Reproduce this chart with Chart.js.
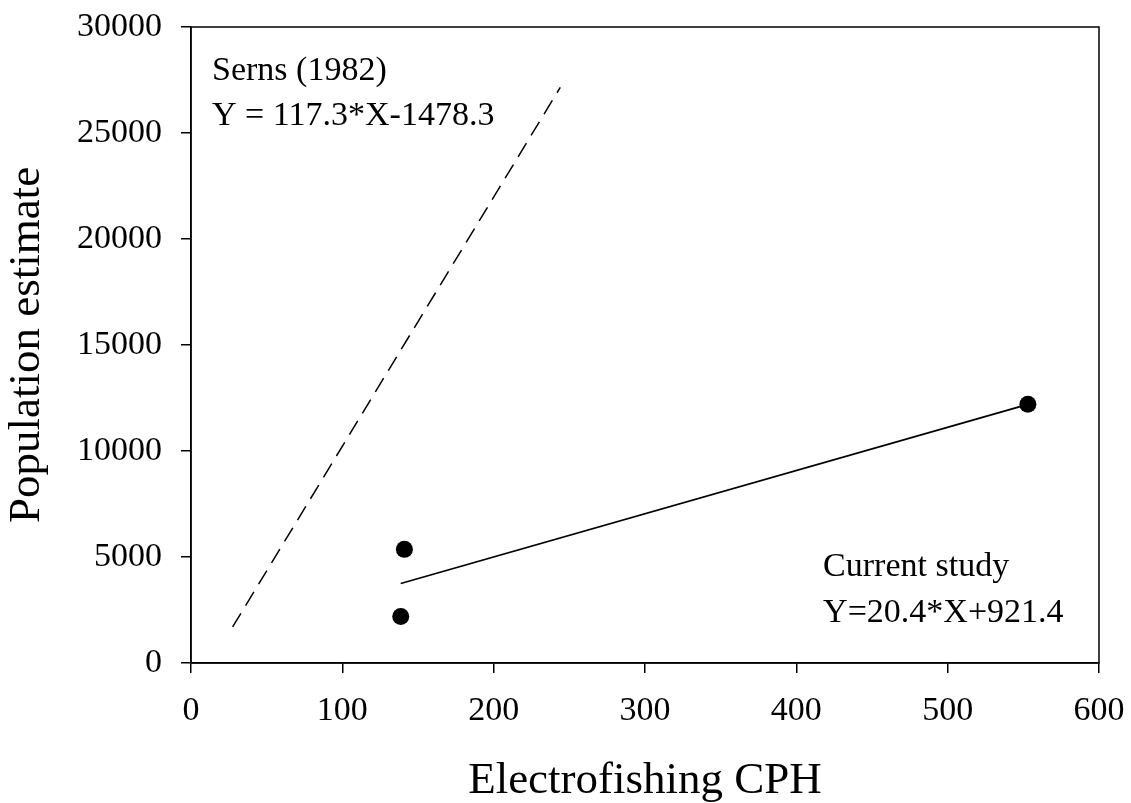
<!DOCTYPE html>
<html lang="en">
<head>
  <meta charset="UTF-8">
  <title>Population estimate vs Electrofishing CPH</title>
  <script src="https://cdn.jsdelivr.net/npm/chart.js"></script>
  <style>
    body { margin: 0; background: #fff; }
    .chart-container { width: 1131px; height: 803px; }
  </style>
</head>
<body>
  <div class="chart-container">
    <canvas id="cphChart"></canvas>
  </div>
  <script>
    // observed points (current study)
    const cphObs = [138.6, 141, 553];
    const popObs = [2190, 5360, 12210];

    // fitted line, current study: Y=20.4*X+921.4 (read end points)
    const cphFit = [138.6, 553];
    const popFit = [3750, 12200];

    // Serns (1982): Y = 117.3*X-1478.3 (read end points)
    const cphSerns = [27.5, 244];
    const popSerns = [1700, 27150];

    const xTicks = [0, 100, 200, 300, 400, 500, 600];
    const yTicks = [0, 5000, 10000, 15000, 20000, 25000, 30000];

    // text notes placed in data coords (left edge, baseline)
    const notes = [
      { text: 'Serns (1982)', x: 13.9, y: 27500 },
      { text: 'Y = 117.3*X-1478.3', x: 13.9, y: 25380 },
      { text: 'Current study', x: 417.7, y: 4100 },
      { text: 'Y=20.4*X+921.4', x: 417.7, y: 1930 }
    ];

    const serif = "'Liberation Serif', 'Times New Roman', serif";
    const toXY = (xs, ys) => xs.map((x, i) => ({ x: x, y: ys[i] }));

    // box round the plot area + notes
    const framePlugin = {
      id: 'frame',
      afterDraw(chart) {
        const { ctx, chartArea: a, scales } = chart;
        ctx.save();
        ctx.strokeStyle = '#000'; ctx.lineWidth = 1.5;
        ctx.strokeRect(a.left, a.top, a.right - a.left, a.bottom - a.top);
        ctx.fillStyle = '#000';
        ctx.font = '34px ' + serif;
        ctx.textBaseline = 'alphabetic'; ctx.textAlign = 'left';
        notes.forEach(n => ctx.fillText(n.text, scales.x.getPixelForValue(n.x), scales.y.getPixelForValue(n.y)));
        ctx.restore();
      }
    };

    const ctx = document.getElementById('cphChart').getContext('2d');
    new Chart(ctx, {
      type: 'scatter',
      data: {
        datasets: [
          { label: 'Serns (1982)', data: toXY(cphSerns, popSerns), showLine: true, borderColor: '#000', borderWidth: 1.5, borderDash: [16, 9], pointRadius: 0 },
          { label: 'Fit', data: toXY(cphFit, popFit), showLine: true, borderColor: '#000', borderWidth: 1.8, pointRadius: 0 },
          { label: 'Current study', data: toXY(cphObs, popObs), backgroundColor: '#000', borderColor: '#000', pointRadius: 8.5, pointBorderWidth: 0 }
        ]
      },
      options: {
        responsive: true,
        maintainAspectRatio: false,
        animation: false,
        layout: { padding: { top: 27, right: 32, left: 0, bottom: 0 } },
        plugins: { legend: { display: false }, tooltip: { enabled: false } },
        scales: {
          x: {
            type: 'linear', min: 0, max: 600,
            afterBuildTicks: s => { s.ticks = xTicks.map(v => ({ value: v })); },
            afterFit: s => { s.height = 140; s.paddingLeft = 0; s.paddingRight = 0; },
            grid: { drawOnChartArea: false, drawTicks: true, tickLength: 10, color: '#000', lineWidth: 1.5 },
            border: { display: true, color: '#000', width: 1.5 },
            ticks: { color: '#000', font: { family: serif, size: 34 }, padding: 18, maxRotation: 0 },
            title: { display: true, text: 'Electrofishing CPH', color: '#000', font: { family: serif, size: 45 }, padding: { top: 0, bottom: -5 } }
          },
          y: {
            type: 'linear', min: 0, max: 30000,
            afterBuildTicks: s => { s.ticks = yTicks.map(v => ({ value: v })); },
            afterFit: s => { s.width = 191; s.paddingTop = 0; s.paddingBottom = 0; },
            grid: { drawOnChartArea: false, drawTicks: true, tickLength: 10, color: '#000', lineWidth: 1.5 },
            border: { display: true, color: '#000', width: 1.5 },
            ticks: { color: '#000', font: { family: serif, size: 34 }, padding: 19, callback: v => String(v) },
            title: { display: true, text: 'Population estimate', color: '#000', font: { family: serif, size: 45 }, padding: { top: 0, bottom: 0 } }
          }
        }
      },
      plugins: [framePlugin]
    });
  </script>
</body>
</html>
